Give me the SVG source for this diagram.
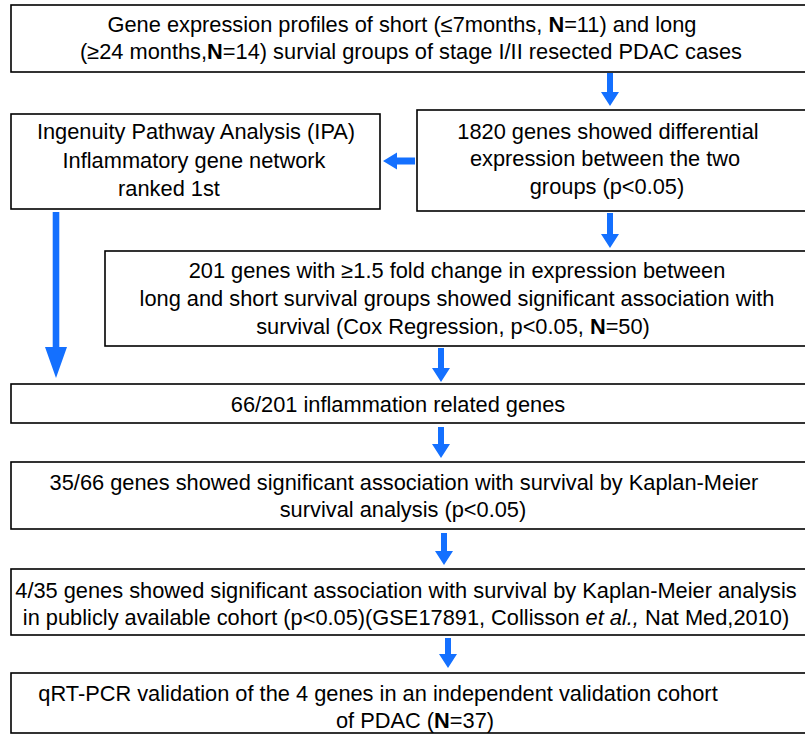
<svg xmlns="http://www.w3.org/2000/svg" width="805" height="736" viewBox="0 0 805 736">
<style>
.box{fill:#fff;stroke:#000;stroke-width:1.6}
.t{font-family:"Liberation Sans",Arial,sans-serif;font-size:21.8px;fill:#000;text-anchor:middle}
.b{font-weight:bold}
.arr{fill:#1470ff}
</style>
<rect width="805" height="736" fill="#fff"/>
<g id="connectors">
<polygon class="arr" points="607,73 613,73 613,92 619,92 610,106 601,92 607,92"/>
<polygon class="arr" points="607,213 613,213 613,234 619,234 610,248 601,234 607,234"/>
<polygon class="arr" points="438,348 444,348 444,368 450,368 441,382 432,368 438,368"/>
<polygon class="arr" points="438,427 444,427 444,444 450,444 441,458 432,444 438,444"/>
<polygon class="arr" points="441,533 447,533 447,551 453,551 444,565 435,551 441,551"/>
<polygon class="arr" points="445,638 451,638 451,654 457,654 448,668 439,654 445,654"/>
<polygon class="arr" points="52.7,212 59.3,212 59.3,347 67,347 56,378 45,347 52.7,347"/>
<polygon class="arr" points="415,157.5 415,164.5 397,164.5 397,169.5 383,161 397,152.5 397,157.5"/>
</g>
<g id="n1">
<rect class="box" x="11" y="5" width="800" height="67"/>
<text class="t" x="402" y="32">Gene expression profiles of short (≤7months, <tspan class="b">N</tspan>=11) and long</text>
<text class="t" x="411" y="59">(≥24 months,<tspan class="b">N</tspan>=14) survial groups of stage I/II resected PDAC cases</text>
</g>
<g id="n2">
<rect class="box" x="11" y="114" width="369" height="95"/>
<text class="t" x="196" y="139">Ingenuity Pathway Analysis (IPA)</text>
<text class="t" x="194" y="168">Inflammatory gene network</text>
<text class="t" x="169" y="196">ranked 1st</text>
</g>
<g id="n3">
<rect class="box" x="417" y="110" width="400" height="101"/>
<text class="t" x="608" y="139">1820 genes showed differential</text>
<text class="t" x="605" y="166">expression between the two</text>
<text class="t" x="607" y="194">groups (p&lt;0.05)</text>
</g>
<g id="n4">
<rect class="box" x="105" y="251" width="710" height="95"/>
<text class="t" x="457" y="278">201 genes with ≥1.5 fold change in expression between</text>
<text class="t" x="457" y="306">long and short survival groups showed significant association with</text>
<text class="t" x="453" y="334">survival (Cox Regression, p&lt;0.05, <tspan class="b">N</tspan>=50)</text>
</g>
<g id="n5">
<rect class="box" x="11" y="384" width="800" height="39"/>
<text class="t" x="398" y="412">66/201 inflammation related genes</text>
</g>
<g id="n6">
<rect class="box" x="11" y="462" width="800" height="67"/>
<text class="t" x="404" y="490">35/66 genes showed significant association with survival by Kaplan-Meier</text>
<text class="t" x="403" y="517">survival analysis (p&lt;0.05)</text>
</g>
<g id="n7">
<rect class="box" x="11" y="569" width="800" height="66"/>
<text class="t" x="406" y="598">4/35 genes showed significant association with survival by Kaplan-Meier analysis</text>
<text class="t" x="406" y="625">in publicly available cohort (p&lt;0.05)(GSE17891, Collisson <tspan font-style="italic">et al.,</tspan> Nat Med,2010)</text>
</g>
<g id="n8">
<rect class="box" x="11" y="673" width="800" height="60"/>
<text class="t" x="378" y="701">qRT-PCR validation of the 4 genes in an independent validation cohort</text>
<text class="t" x="415" y="728">of PDAC (<tspan class="b">N</tspan>=37)</text>
</g>
</svg>
